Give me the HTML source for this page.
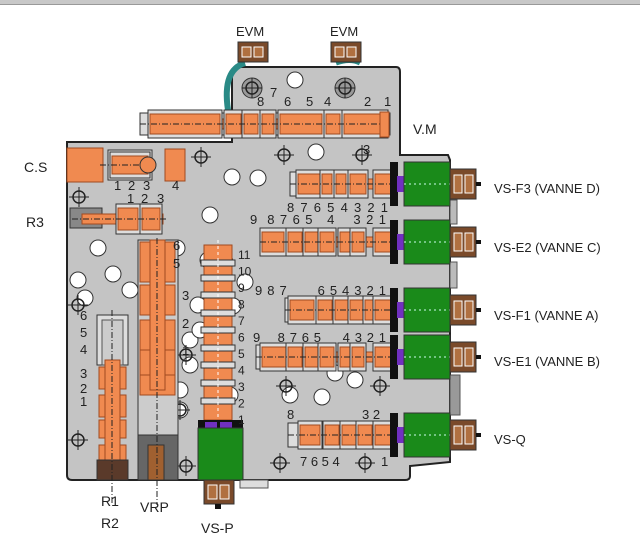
<!DOCTYPE html><html><head><style>body{margin:0;background:#fff}svg{display:block}text{font-family:"Liberation Sans",sans-serif;fill:#222}</style></head><body>
<svg id="s" width="640" height="541" viewBox="0 0 640 541" xmlns="http://www.w3.org/2000/svg">
<rect x="0" y="0" width="640" height="4" fill="#c8c8c8"/>
<rect x="0" y="4" width="640" height="1" fill="#999"/>
<path d="M67 142 L232 142 L232 72 Q232 67 237 67 L396 67 Q400 67 400 72 L400 155 L448 155 L450 160 L450 462 L410 466 L410 476 Q410 480 405 480 L72 480 Q67 480 67 475 Z" fill="#c4c4c4" stroke="#222" stroke-width="2"/>
<path d="M245 63 Q222 70 228 110" stroke="#2a8a86" stroke-width="6" fill="none"/>
<path d="M336 63 Q350 58 360 63" stroke="#2a8a86" stroke-width="5" fill="none"/>
<rect x="450" y="200" width="7" height="24" fill="#bbb" stroke="#555"/>
<rect x="450" y="262" width="7" height="26" fill="#bbb" stroke="#555"/>
<rect x="450" y="375" width="10" height="40" fill="#999" stroke="#555"/>
<rect x="240" y="480" width="28" height="8" fill="#ddd" stroke="#555"/>
<g id="g"></g>
<text x="236" y="36" font-size="13">EVM</text><text x="330" y="36" font-size="13">EVM</text>
<text x="413" y="134" font-size="14">V.M</text>
<text x="24" y="172" font-size="14">C.S</text>
<text x="26" y="227" font-size="14">R3</text>
<text x="494" y="193" font-size="13">VS-F3 (VANNE D)</text>
<text x="494" y="252" font-size="13">VS-E2 (VANNE C)</text>
<text x="494" y="320" font-size="13">VS-F1 (VANNE A)</text>
<text x="494" y="366" font-size="13">VS-E1 (VANNE B)</text>
<text x="494" y="444" font-size="13">VS-Q</text>
<text x="101" y="506" font-size="14">R1</text><text x="101" y="528" font-size="14">R2</text>
<text x="140" y="512" font-size="14">VRP</text>
<text x="201" y="533" font-size="14">VS-P</text>
</svg>
<script>
const g=document.getElementById('g');let h='';
const O='#f08a50',OS='#a04a20';
function r(x,y,w,hh,f,s,sw){h+=`<rect x="${x}" y="${y}" width="${w}" height="${hh}" fill="${f}" stroke="${s||'none'}" stroke-width="${sw||1}"/>`}
function c(x,y,rad,f){h+=`<circle cx="${x}" cy="${y}" r="${rad}" fill="${f}" stroke="#333"/>`}
function t(x,y,s,fs){h+=`<text x="${x}" y="${y}" font-size="${fs||13}">${s}</text>`}
function ts(x1,x2,y,s){h+=`<text x="${x1}" y="${y}" font-size="13" textLength="${x2-x1}" lengthAdjust="spacing" xml:space="preserve">${s}</text>`}
function line(x1,y1,x2,y2,col,d){h+=`<line x1="${x1}" y1="${y1}" x2="${x2}" y2="${y2}" stroke="${col}" stroke-width="1" stroke-dasharray="${d||'6,2,1,2'}"/>`}
function cross(x,y){h+=`<circle cx="${x}" cy="${y}" r="6" fill="none" stroke="#222" stroke-width="1.5"/>`;line(x-10,y,x+10,y,'#222','none');line(x,y-10,x,y+10,'#222','none')}
[[232,177],[258,178],[210,215],[225,262],[233,306],[215,280],[177,248],[98,248],[78,280],[85,298],[113,274],[180,390],[180,410],[190,340],[230,395],[290,395],[335,373],[355,380],[295,80],[130,290],[198,305],[200,330],[190,365],[208,260],[245,282],[322,397],[316,152]].forEach(p=>c(p[0],p[1],8,'#fff'));
[[201,157],[284,155],[362,155],[79,197],[285,246],[380,246],[78,305],[78,440],[286,386],[380,386],[186,355],[186,466],[280,463],[365,463],[180,410]].forEach(p=>cross(p[0],p[1]));
c(252,88,10,'#999');c(345,88,10,'#999');cross(252,88);cross(345,88);
[[238,42],[331,42]].forEach(p=>{r(p[0],p[1],30,20,'#7a4a2a','#333');r(p[0]+4,p[1]+5,9,10,'#b07040','#fff');r(p[0]+16,p[1]+5,9,10,'#b07040','#fff')});
function hsp(x1,x2,y,lands,hh){r(x1,y-5,x2-x1,10,O,OS);lands.forEach(l=>{r(l[0]-2,y-(hh/2+4),l[1]+4,hh+8,'#ddd','#333');r(l[0],y-hh/2,l[1],hh,O,OS)});line(x1-10,y,x2+5,y,'#222')}
r(140,113,250,22,'#ddd','#333');
hsp(150,385,124,[[150,70],[226,15],[244,14],[262,12],[280,42],[326,14],[344,42]],20);
r(380,112,9,25,O,OS);
t(257,106,'8');t(270,97,'7');t(284,106,'6');t(306,106,'5');t(324,106,'4');t(364,106,'2');t(384,106,'1');
r(67,148,36,34,O,OS);r(108,150,44,30,'#ddd','#333');hsp(110,150,165,[[112,36]],18);c(148,165,8,O);r(165,149,20,32,O,OS);
t(114,190,'1');t(128,190,'2');t(143,190,'3');t(172,190,'4');
r(70,208,32,20,'#888','#333');hsp(82,163,219,[[118,20],[142,18]],22);
t(127,203,'1');t(141,203,'2');t(157,203,'3');
const rows=[[184,290,[[298,22],[322,10],[336,10],[350,16],[375,18]]],
[242,260,[[262,22],[288,14],[305,14],[320,14],[340,10],[352,12],[375,18]]],
[310,285,[[290,24],[318,14],[335,14],[350,14],[365,10],[375,18]]],
[357,256,[[262,24],[288,14],[305,14],[320,14],[340,10],[352,12],[375,18]]],
[435,288,[[300,20],[325,14],[342,14],[358,14],[375,18]]]];
rows.forEach(R=>{const y=R[0];r(R[1],y-12,10,24,'#ddd','#333');hsp(R[1]+10,395,y,R[2],20);
r(390,y-22,8,44,'#111');r(397,y-8,7,16,'#7030c0');r(404,y-22,46,44,'#1a8a1a','#333');line(404,y,450,y,'#cfe','2,3');
r(450,y-15,26,30,'#7a4a2a','#333');r(454,y-9,8,18,'#b07040','#fff');r(465,y-9,8,18,'#b07040','#fff');r(476,y-2,5,4,'#111');});
ts(287,388,212,'8 7 6 5 4 3 2 1');
ts(250,386,224,'9  8 7 6 5   4    3 2 1');
ts(255,386,295,'9 8 7       6 5 4 3 2 1');
ts(253,386,342,'9    8 7 6 5     4 3 2 1');
t(287,419,'8');t(362,419,'3 2');
t(300,466,'7 6 5 4');t(381,466,'1');
t(363,154,'3');
r(97,315,31,50,'#ddd','#333');r(102,320,21,45,'#ccc','#555');
[[367,22],[395,22],[420,18],[445,15]].forEach(l=>r(99,l[0],27,l[1],O,OS));r(105,360,15,100,O,OS);
r(97,460,31,20,'#5a3a2a','#333');line(112,310,112,505,'#222');
t(80,320,'6');t(80,337,'5');t(80,354,'4');t(80,378,'3');t(80,393,'2');t(80,406,'1');
r(138,240,40,240,'#ccc','#333');[[242,40],[285,30],[320,30],[350,25],[375,20]].forEach(l=>r(140,l[0],35,l[1],O,OS));r(150,240,15,150,O,OS);
r(138,435,40,45,'#666','#333');r(148,445,16,35,'#a06030','#333');line(157,238,157,505,'#222');
t(173,250,'6');t(173,268,'5');t(182,300,'3');t(182,328,'2');t(182,355,'1');
r(204,245,28,175,O,OS);[260,275,292,310,327,345,362,380,398].forEach(y=>r(201,y,34,6,'#ddd','#333'));line(218,240,218,510,'#fff','3,3');
r(198,420,45,8,'#111');r(205,422,12,6,'#7030c0');r(220,422,12,6,'#7030c0');r(198,428,45,52,'#1a8a1a','#333');
r(204,480,30,24,'#7a4a2a','#333');r(208,485,9,14,'#b07040','#fff');r(220,485,9,14,'#b07040','#fff');r(215,504,6,5,'#111');
['11','10','9','8','7','6','5','4','3','2','1'].forEach((s,i)=>t(238,259+i*16.5,s,12));
g.innerHTML=h;
</script>
</body></html>
